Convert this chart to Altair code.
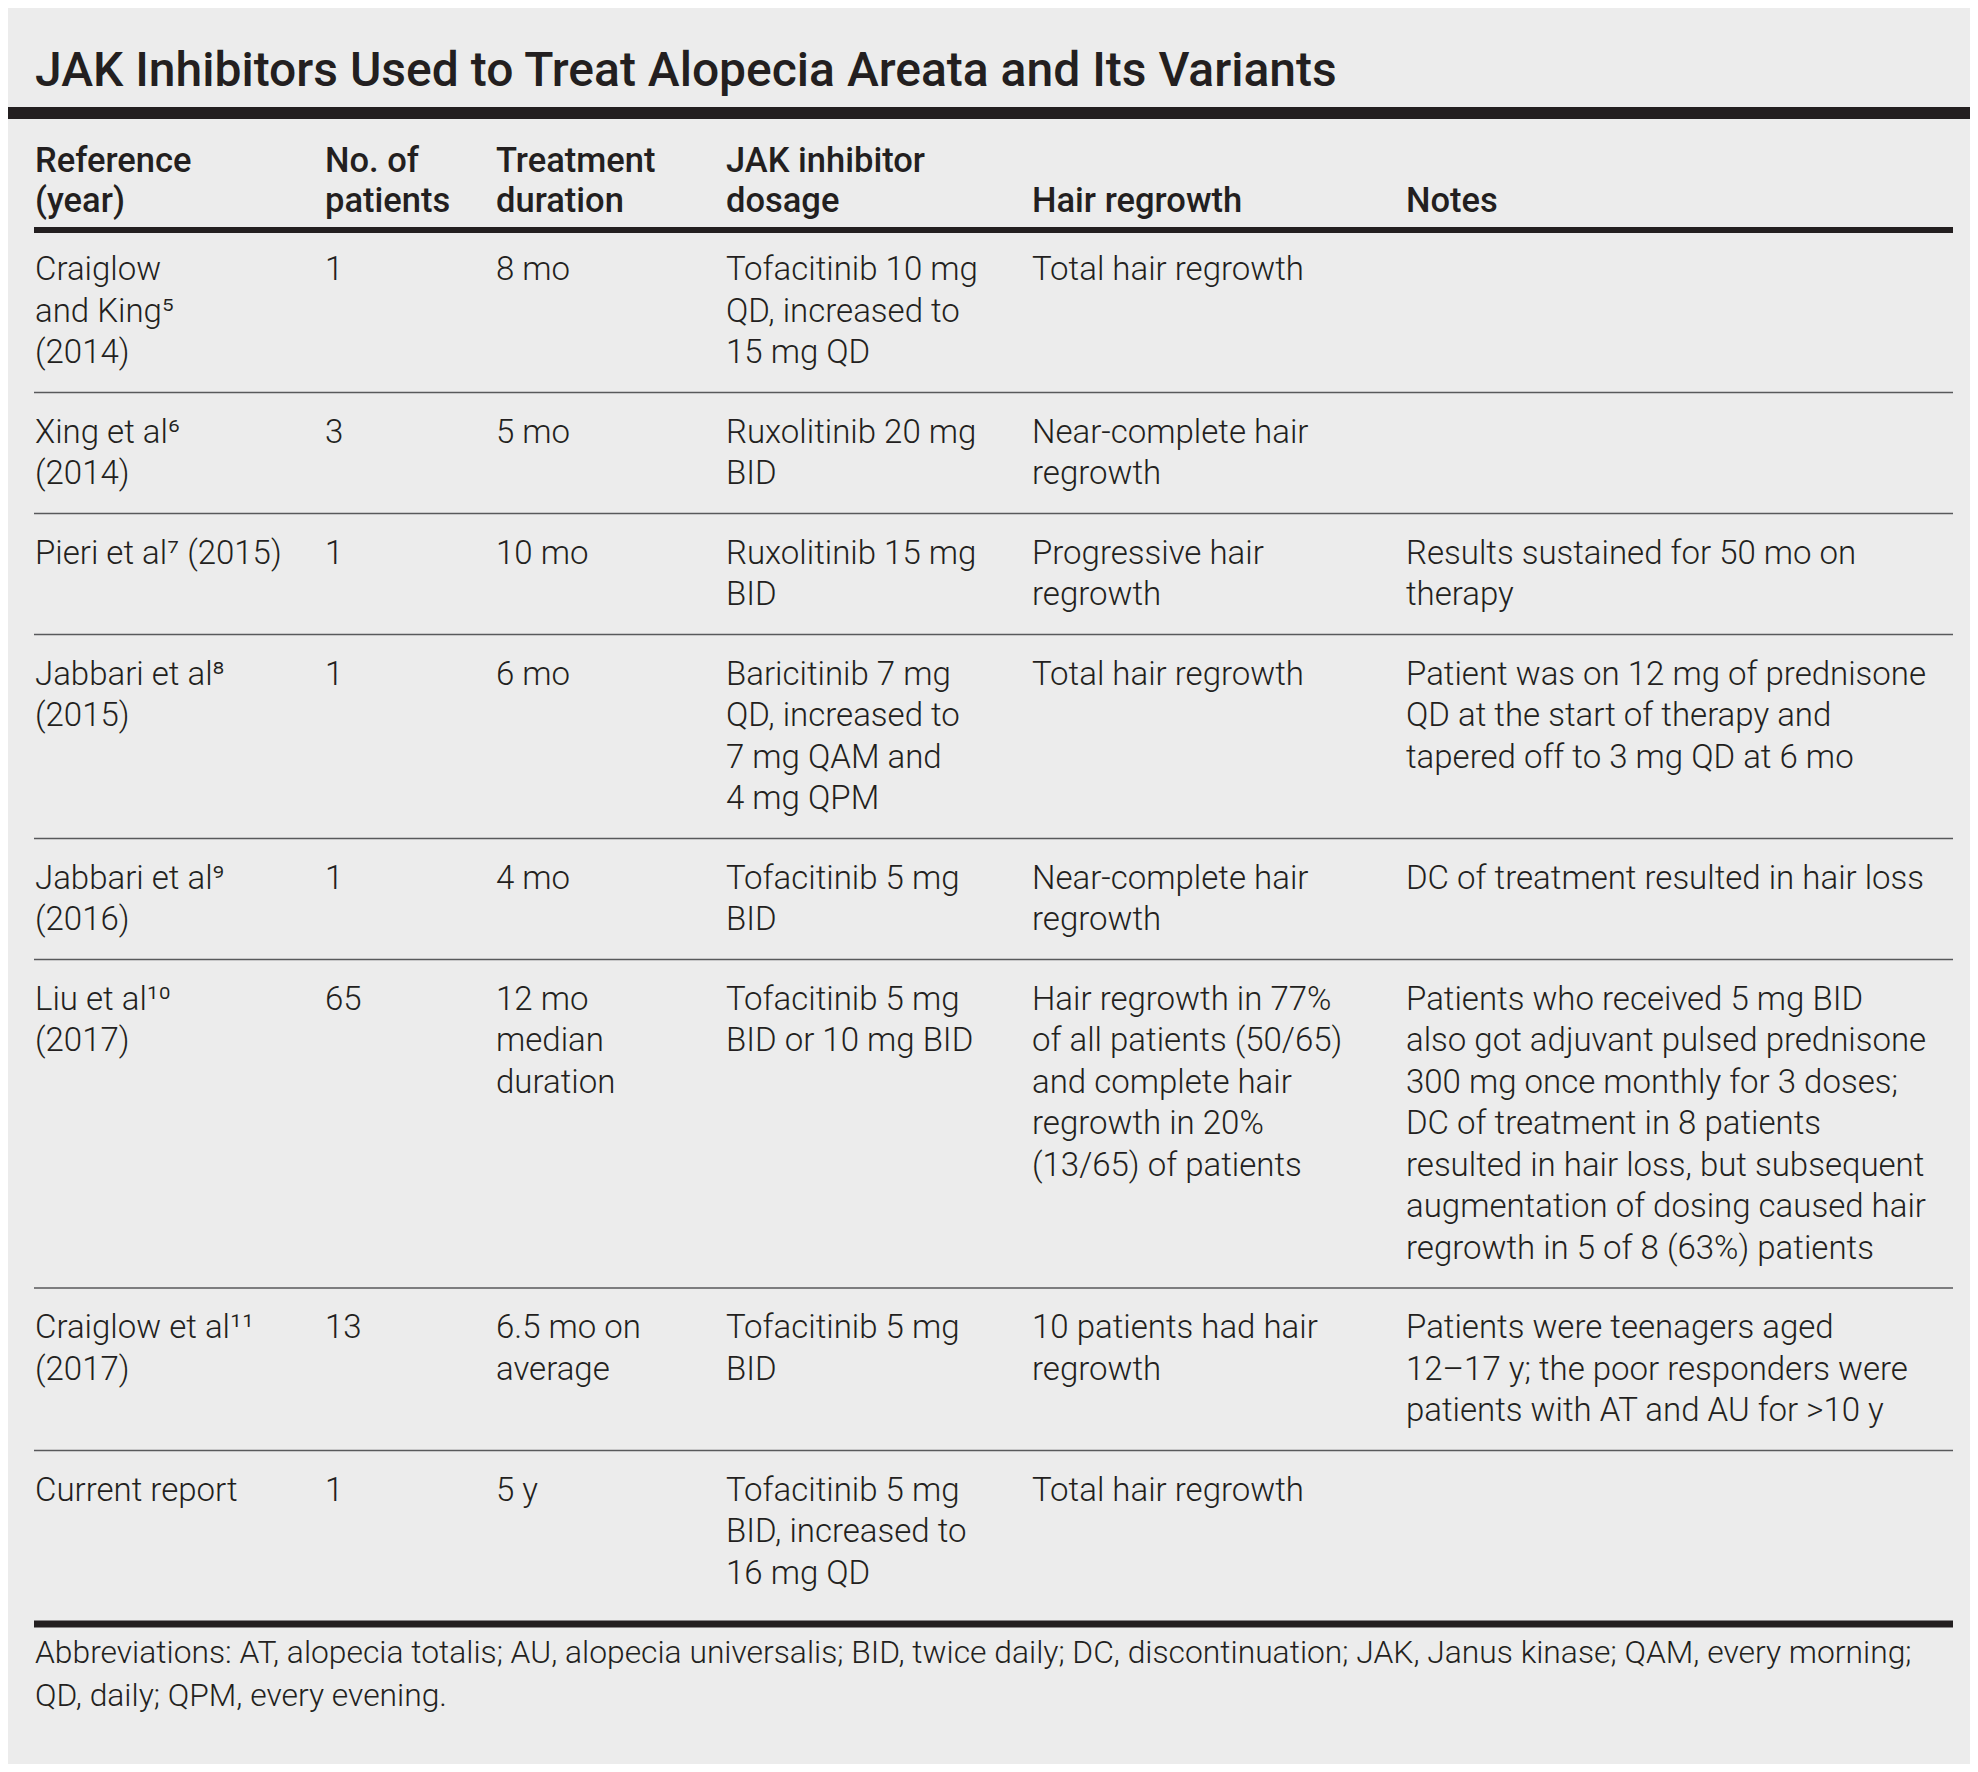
import altair as alt
import pandas as pd

# ---------------- data ----------------
title = "JAK Inhibitors Used to Treat Alopecia Areata and Its Variants"

headers = [
    ["Reference", "(year)"],
    ["No. of", "patients"],
    ["Treatment", "duration"],
    ["JAK inhibitor", "dosage"],
    ["Hair regrowth"],
    ["Notes"],
]

references = [
    ["Craiglow", "and King\u2075", "(2014)"],
    ["Xing et al\u2076", "(2014)"],
    ["Pieri et al\u2077 (2015)"],
    ["Jabbari et al\u2078", "(2015)"],
    ["Jabbari et al\u2079", "(2016)"],
    ["Liu et al\u00b9\u2070", "(2017)"],
    ["Craiglow et al\u00b9\u00b9", "(2017)"],
    ["Current report"],
]

patients = [["1"], ["3"], ["1"], ["1"], ["1"], ["65"], ["13"], ["1"]]

durations = [
    ["8 mo"], ["5 mo"], ["10 mo"], ["6 mo"], ["4 mo"],
    ["12 mo", "median", "duration"],
    ["6.5 mo on", "average"],
    ["5 y"],
]

dosages = [
    ["Tofacitinib 10 mg", "QD, increased to", "15 mg QD"],
    ["Ruxolitinib 20 mg", "BID"],
    ["Ruxolitinib 15 mg", "BID"],
    ["Baricitinib 7 mg", "QD, increased to", "7 mg QAM and", "4 mg QPM"],
    ["Tofacitinib 5 mg", "BID"],
    ["Tofacitinib 5 mg", "BID or 10 mg BID"],
    ["Tofacitinib 5 mg", "BID"],
    ["Tofacitinib 5 mg", "BID, increased to", "16 mg QD"],
]

regrowth = [
    ["Total hair regrowth"],
    ["Near-complete hair", "regrowth"],
    ["Progressive hair", "regrowth"],
    ["Total hair regrowth"],
    ["Near-complete hair", "regrowth"],
    ["Hair regrowth in 77%", "of all patients (50/65)", "and complete hair",
     "regrowth in 20%", "(13/65) of patients"],
    ["10 patients had hair", "regrowth"],
    ["Total hair regrowth"],
]

notes = [
    [],
    [],
    ["Results sustained for 50 mo on", "therapy"],
    ["Patient was on 12 mg of prednisone", "QD at the start of therapy and",
     "tapered off to 3 mg QD at 6 mo"],
    ["DC of treatment resulted in hair loss"],
    ["Patients who received 5 mg BID", "also got adjuvant pulsed prednisone",
     "300 mg once monthly for 3 doses;", "DC of treatment in 8 patients",
     "resulted in hair loss, but subsequent", "augmentation of dosing caused hair",
     "regrowth in 5 of 8 (63%) patients"],
    ["Patients were teenagers aged", "12\u201317 y; the poor responders were",
     "patients with AT and AU for >10 y"],
    [],
]

footnote = [
    "Abbreviations: AT, alopecia totalis; AU, alopecia universalis; BID, twice daily; "
    "DC, discontinuation; JAK, Janus kinase; QAM, every morning;",
    "QD, daily; QPM, every evening.",
]

columns = [references, patients, durations, dosages, regrowth, notes]

# ---------------- layout (page pixels) ----------------
W, H = 1962, 1756
col_edges = [34, 306, 478, 710, 1014, 1387, 1953]
text_pad = [1, 19, 18, 16, 18, 19]
LINE = 41.5
HEADER_LINE = 40
header_rule_y = 230
first_base = 50
row_extra = 38

ink = "#231f20"
grey = "#58595b"

texts = []
texts.append(dict(x=35, y=86, text=title, kind="title"))
for ci, h in enumerate(headers):
    n = len(h)
    for li, t in enumerate(h):
        texts.append(dict(x=col_edges[ci] + text_pad[ci],
                          y=212 - HEADER_LINE * (n - 1 - li), text=t, kind="header"))

rules = []
rules.append(dict(x=8, x2=1970, y=113, w=12, c=ink))
rules.append(dict(x=col_edges[0], x2=col_edges[-1], y=header_rule_y, w=6, c=ink))

top = header_rule_y
nrows = len(references)
for ri in range(nrows):
    nlines = max(len(c[ri]) for c in columns)
    for ci, col in enumerate(columns):
        for li, t in enumerate(col[ri]):
            texts.append(dict(x=col_edges[ci] + text_pad[ci],
                              y=top + first_base + LINE * li, text=t, kind="body"))
    top = top + LINE * nlines + row_extra
    if ri < nrows - 1:
        rules.append(dict(x=col_edges[0], x2=col_edges[-1], y=top, w=1.4, c=grey))
    else:
        rules.append(dict(x=col_edges[0], x2=col_edges[-1], y=top + 11, w=7, c=ink))
        foot_top = top + 11

for li, t in enumerate(footnote):
    texts.append(dict(x=35, y=foot_top + 39 + 43 * li, text=t, kind="foot"))

tdf = pd.DataFrame(texts)
rdf = pd.DataFrame(rules)

xs = alt.Scale(domain=[8, 8 + W], nice=False, zero=False)
ys = alt.Scale(domain=[8, 8 + H], nice=False, zero=False, reverse=True)
X = lambda f: alt.X(f, type="quantitative", scale=xs, axis=None)
Y = lambda f: alt.Y(f, type="quantitative", scale=ys, axis=None)

base_t = alt.Chart(tdf)

def text_layer(kind, size, weight, color=ink):
    return base_t.transform_filter(alt.datum.kind == kind).mark_text(
        align="left", baseline="alphabetic", font="Roboto", fontSize=size,
        fontWeight=weight, color=color
    ).encode(x=X("x"), y=Y("y"), text="text:N")

rule_layer = alt.Chart(rdf).mark_rule(strokeCap="butt").encode(
    x=X("x"), x2="x2", y=Y("y"),
    strokeWidth=alt.StrokeWidth("w:Q", scale=None),
    color=alt.Color("c:N", scale=None),
)

chart = alt.layer(
    rule_layer,
    text_layer("title", 48, 500),
    text_layer("header", 34.5, 500),
    text_layer("body", 33, 300),
    text_layer("foot", 31.8, 300),
).properties(
    width=W, height=H, padding=0, autosize=alt.AutoSizeParams(type="none"),
    background="#ececec",
).configure_view(stroke=None)

chart.save("out.html", embed_options={"renderer": "svg", "actions": False})
